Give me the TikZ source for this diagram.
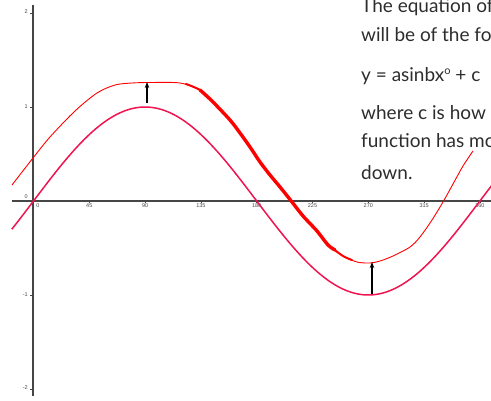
\documentclass[tikz,border=0pt]{standalone}
\usepackage{fontspec}
\setmainfont{Lato}
\setsansfont{Liberation Sans}
\usetikzlibrary{arrows.meta}
\definecolor{pinkc}{RGB}{240,20,80}
\definecolor{redc}{RGB}{255,0,0}
\definecolor{txt}{RGB}{45,45,45}
\definecolor{axc}{RGB}{70,70,70}
\tikzset{
  axis/.style={draw=axc},
  ticklab/.style={font=\sffamily\fontsize{5.5}{5.5}\selectfont, text=axc, inner sep=0pt},
  body/.style={font=\fontsize{19}{19}\selectfont, text=txt, anchor=base west, inner sep=0pt},
  shiftarrow/.style={-{Stealth[length=6pt,width=4.5pt]}, line width=1.8pt, black},
}
\begin{document}
\begin{tikzpicture}[x=1pt,y=-1pt]
\useasboundingbox (0,0) rectangle (491,401);
% axes
\draw[axis, line width=1.3pt] (12,201) -- (491,201);
\draw[axis, line width=1.8pt] (33,5) -- (33,396);
% y ticks
\foreach \v in {2,1,0,-1,-2}{
  \draw[axis, line width=0.6pt] (30,{201-94*\v}) -- (33,{201-94*\v});
}
\node[ticklab, anchor=east] (y2) at (28,12) {2};
\node[ticklab, anchor=east] (y1) at (28,107) {1};
\node[ticklab, anchor=east] (y0) at (28,197) {0};
\node[ticklab, anchor=east] (ym1) at (28,295) {-1};
\node[ticklab, anchor=east] (ym2) at (28,388) {-2};
% x ticks
\foreach \d in {45,90,...,360}{
  \draw[axis, line width=0.6pt] ({33.5+1.24*\d},201) -- ({33.5+1.24*\d},203.5);
}
\node[ticklab] (x0) at (38,206) {0};
\foreach \d in {45,90,...,360}{
  \node[ticklab] (x\d) at ({33.5+1.24*\d},206) {\d};
}
% pink sine
\draw[pinkc, line width=1.5pt] plot[domain=-17.5:369.5, samples=120] ({33.5+1.24*\x},{201-94*sin(\x)});
% red translated curve (thin)
\draw[redc, line width=0.9pt] plot[smooth, tension=0.5] coordinates {
  (12,185) (33,158) (50,137) (75,111) (97,93) (115,85) (132,83) (150,82.5) (180,83)
  (200,90) (212,101) (230,120) (240,133) (250,147) (260,162) (270,175) (280,187)
  (292,202) (303,216) (317,231) (328,245) (343,256) (357,262) (370,263) (380,261)
  (393,256) (410,247) (420,237) (432,220) (443,202) (453,184) (463,166) (473,151)};
% red thick part
\draw[redc, line width=2pt, line cap=round] plot[smooth, tension=0.5] coordinates {
  (186,84) (200,90) (212,101)};
\draw[redc, line width=3.4pt, line cap=round] plot[smooth, tension=0.5] coordinates {
  (200,90) (212,101) (230,120) (240,133) (250,147) (260,162) (270,175) (280,187)
  (292,202) (303,216) (317,231) (328,245) (335,250)};
\draw[redc, line width=2pt, line cap=round] plot[smooth, tension=0.5] coordinates {
  (328,245) (343,256) (352,260)};
% arrows
\coordinate (a1s) at (147,103);
\coordinate (a1e) at (147,82);
\coordinate (a2s) at (372,294);
\coordinate (a2e) at (372,262);
\draw[shiftarrow] (a1s) -- (a1e);
\draw[shiftarrow] (a2s) -- (a2e);
% text (cut off at the right edge, as in the reference)
\node[body] (t1) at (361,13) {The equation of};
\node[body] (t2) at (361,42) {will be of the fo};
\node[body] (t3) at (361,82) {y = asinbx\raisebox{0.75ex}{\fontsize{11}{11}\selectfont o} + c};
\node[body] (t4) at (361,120) {where c is how m};
\node[body] (t5) at (361,148) {function has mo};
\node[body] (t6) at (361,180) {down.};
\end{tikzpicture}
\end{document}
